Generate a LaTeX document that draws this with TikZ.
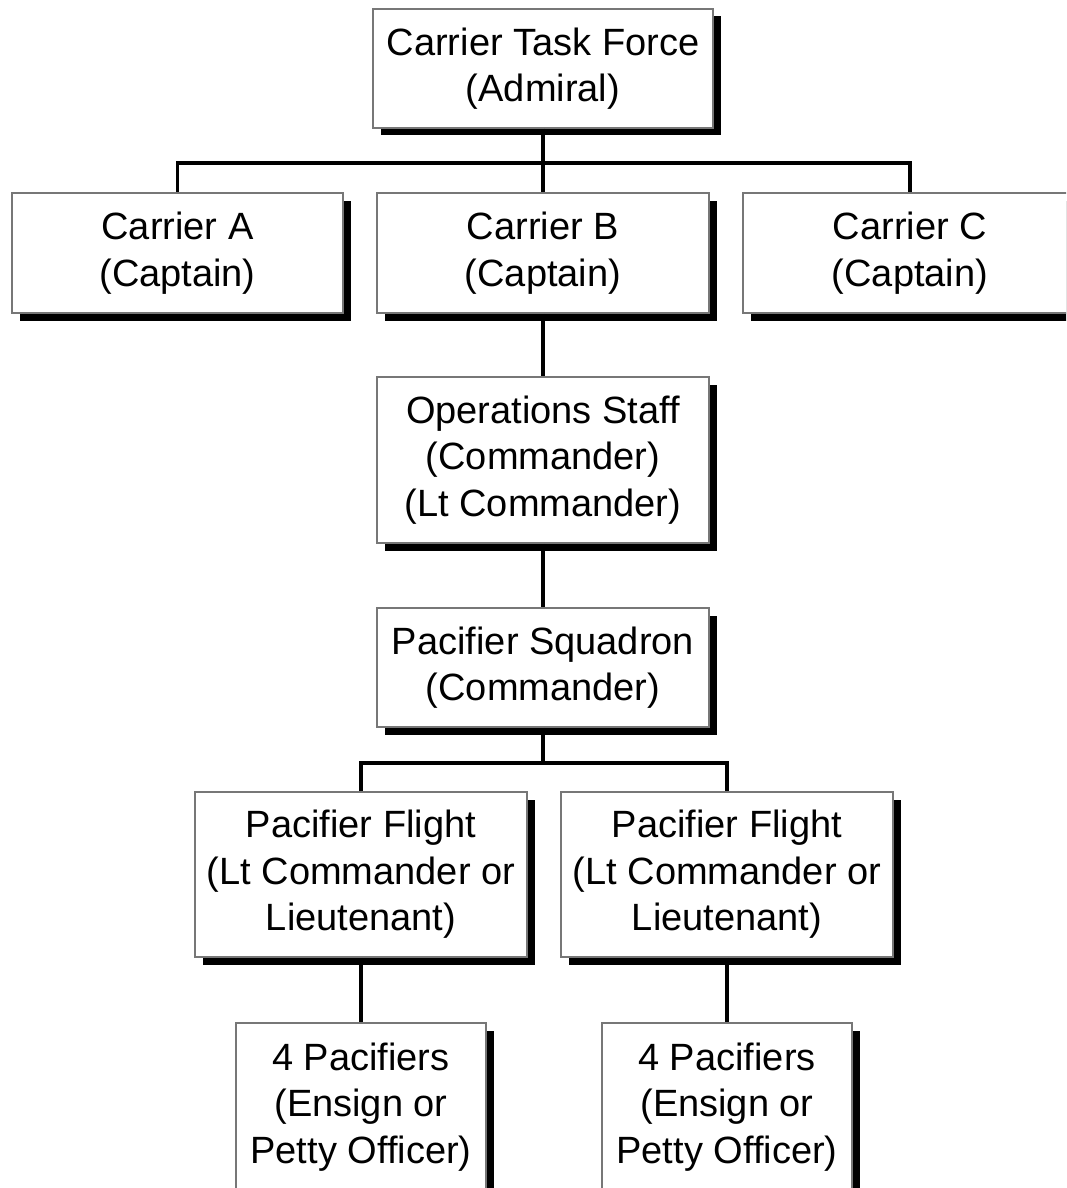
\documentclass[tikz,border=0pt]{standalone}
\usepackage{fontspec}
\setmainfont{Liberation Sans}
\usetikzlibrary{shadows}
\definecolor{boxline}{HTML}{777777}
\tikzset{
  orgbox/.style={draw=boxline, line width=1.5pt, fill=white, inner sep=0pt,
    align=center, font=\fontsize{38}{46.5}\selectfont,
    general shadow={fill=black, shadow xshift=7.5pt, shadow yshift=-7.5pt}},
  conn/.style={line width=3.3pt, black}
}
\newcommand{\obox}[6]{% name, x1, y1, x2, y2, text
  \node[orgbox, minimum width={(#4)-(#2)}, minimum height={(#5)-(#3)}]
    (#1) at ({((#2)+(#4))/2},{((#3)+(#5))/2}) {#6};}
\begin{document}
\begin{tikzpicture}[x=1pt, y=-1pt]
\useasboundingbox (0,0) rectangle (1066,1188);
\clip (0,0) rectangle (1066,1188);
\fill[white] (0,0) rectangle (1066,1188);
\coordinate (bus1) at (543,163);
\coordinate (bus2) at (543,763);
\obox{tf}{373}{9}{713}{128}{Carrier Task Force\\(Admiral)}
\obox{ca}{12}{193}{343}{313}{Carrier A\\(Captain)}
\obox{cb}{377}{193}{709}{313}{Carrier B\\(Captain)}
\obox{cc}{743}{193}{1077}{313}{Carrier C\\(Captain)}
\obox{ops}{377}{377}{709}{543}{Operations Staff\\(Commander)\\(Lt Commander)}
\obox{sq}{377}{608}{709}{727}{Pacifier Squadron\\(Commander)}
\obox{fa}{195}{792}{527}{957}{Pacifier Flight\\(Lt Commander or\\Lieutenant)}
\obox{fb}{561}{792}{893}{957}{Pacifier Flight\\(Lt Commander or\\Lieutenant)}
\obox{pa}{236}{1023}{486}{1191}{4 Pacifiers\\(Ensign or\\Petty Officer)}
\obox{pb}{602}{1023}{852}{1191}{4 Pacifiers\\(Ensign or\\Petty Officer)}
\draw[conn] (tf.south) -- (bus1);
\draw[conn] (bus1) -| (ca.north);
\draw[conn] (bus1) -| (cc.north);
\draw[conn] (bus1) -- (cb.north);
\draw[conn] (cb.south) -- (ops.north);
\draw[conn] (ops.south) -- (sq.north);
\draw[conn] (sq.south) -- (bus2);
\draw[conn] (bus2) -| (fa.north);
\draw[conn] (bus2) -| (fb.north);
\draw[conn] (fa.south) -- (pa.north);
\draw[conn] (fb.south) -- (pb.north);
\end{tikzpicture}
\end{document}
